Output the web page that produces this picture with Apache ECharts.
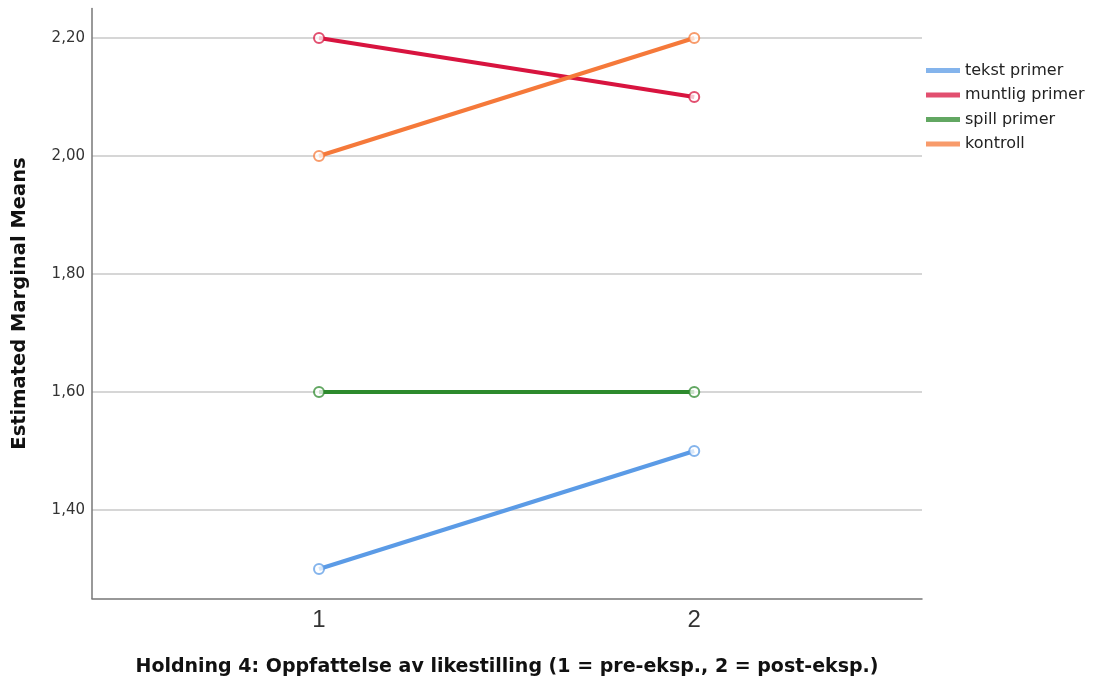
<!DOCTYPE html>
<html>
<head>
<meta charset="utf-8">
<script src="https://cdn.jsdelivr.net/npm/echarts@6/dist/echarts.min.js"></script>
<style>html,body{margin:0;padding:0;background:#fff}#c{width:1095px;height:682px}</style>
</head>
<body>
<div id="c"></div>
<script>
const xValues = [1, 2];
const seriesNames = ['tekst primer', 'muntlig primer', 'spill primer', 'kontroll'];
const tekst = [1.30, 1.50];
const muntlig = [2.20, 2.10];
const spill = [1.60, 1.60];
const kontroll = [2.00, 2.20];
const yTicks = [1.40, 1.60, 1.80, 2.00, 2.20];
const colors = ['#5b9be6', '#d8143f', '#2d8a2d', '#f5793a'];
const allData = [tekst, muntlig, spill, kontroll];
const FONT = 'DejaVu Sans';

const chart = echarts.init(document.getElementById('c'));
chart.setOption({
  animation: false,
  grid: {left: 92, right: 173, top: 8.5, bottom: 83.5, outerBoundsMode: 'none'},
  legend: {
    orient: 'vertical', left: 921, top: 57.5, itemWidth: 34, itemHeight: 5, itemGap: 8.5,
    icon: 'rect',
    textStyle: {fontFamily: FONT, fontSize: 16, color: '#222'},
    data: seriesNames
  },
  xAxis: {
    type: 'value', min: 0.395, max: 2.607,
    name: 'Holdning 4: Oppfattelse av likestilling (1 = pre-eksp., 2 = post-eksp.)',
    nameLocation: 'middle', nameGap: 59,
    nameTextStyle: {fontFamily: FONT, fontSize: 19, fontWeight: 'bold', color: '#111'},
    axisLine: {show: true, lineStyle: {color: '#777', width: 1.5}},
    axisTick: {show: false, customValues: xValues},
    axisLabel: {customValues: xValues, fontFamily: 'Liberation Sans', fontSize: 24, color: '#333', margin: 10},
    splitLine: {show: false}
  },
  yAxis: {
    type: 'value', min: 1.25, max: 2.25,
    name: 'Estimated Marginal Means', nameLocation: 'middle', nameGap: 62,
    nameTextStyle: {fontFamily: FONT, fontSize: 19.5, fontWeight: 'bold', color: '#111'},
    axisLine: {show: true, lineStyle: {color: '#777', width: 1.5}},
    axisTick: {show: false, customValues: yTicks},
    axisLabel: {customValues: yTicks, fontFamily: FONT, fontSize: 15, color: '#333', margin: 7,
      formatter: v => v.toFixed(2).replace('.', ',')},
    splitLine: {show: true, lineStyle: {color: '#c8c8c8', width: 1.5}}
  },
  series: seriesNames.map((n, i) => ({
    name: n, type: 'line',
    data: xValues.map((x, j) => [x, allData[i][j]]),
    symbol: 'emptyCircle', symbolSize: 10,
    lineStyle: {color: colors[i], width: 4},
    itemStyle: {color: colors[i], borderWidth: 1.8, opacity: 0.75},
    z: 2
  }))
});
</script>
</body>
</html>
